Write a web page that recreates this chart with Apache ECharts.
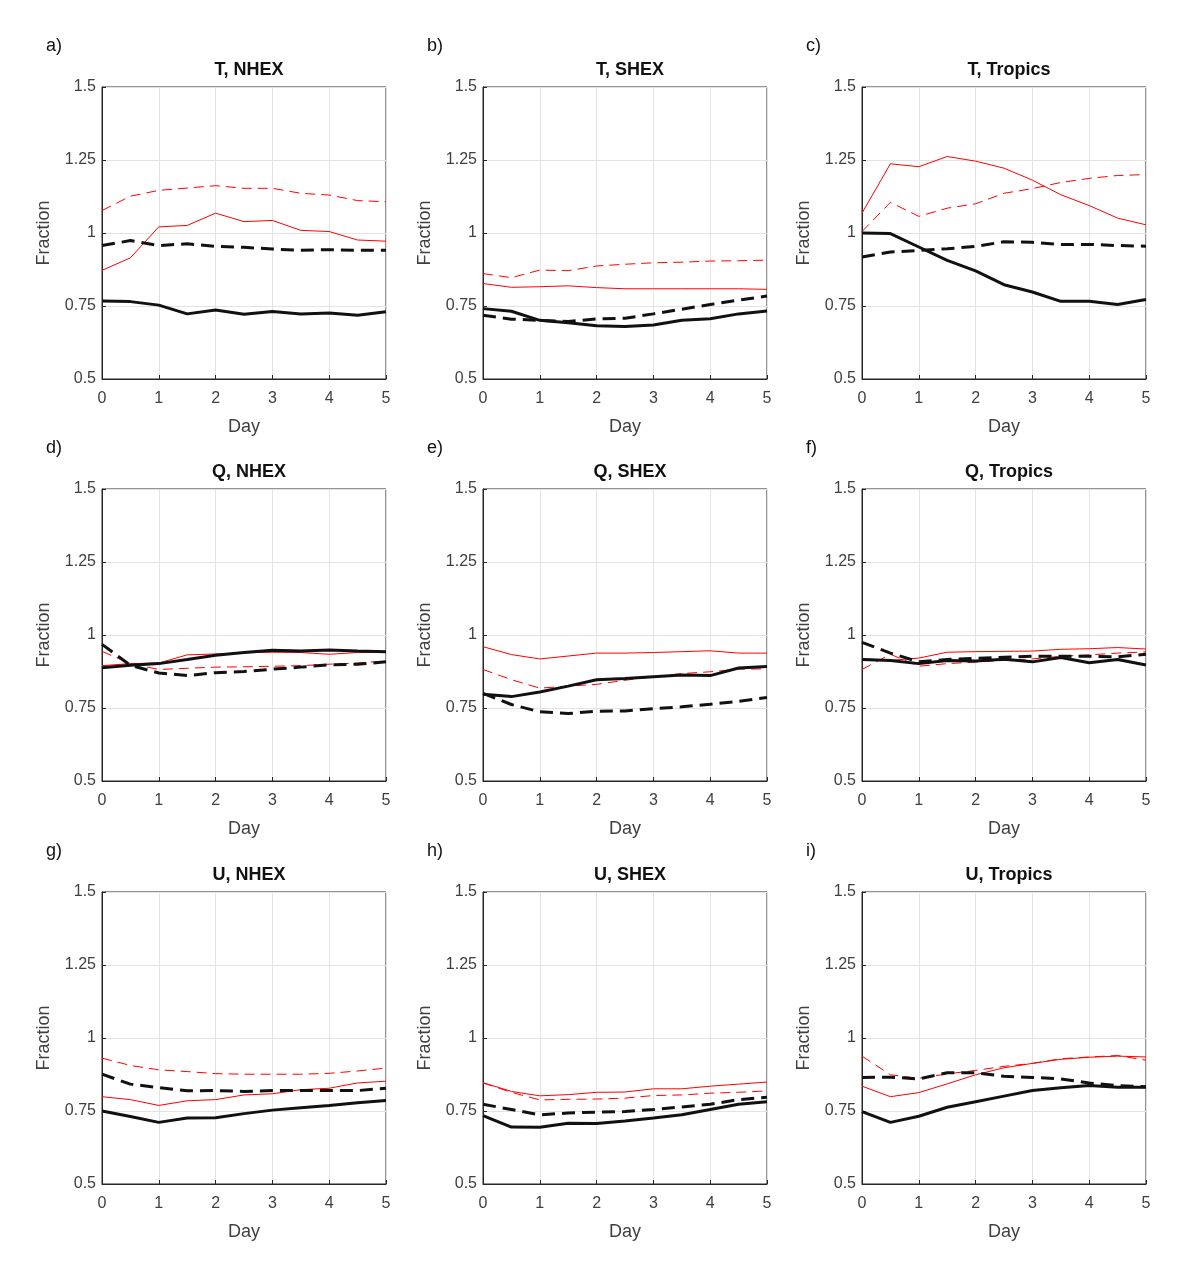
<!DOCTYPE html>
<html lang="en">
<head>
    <meta charset="UTF-8">
    <title>Fraction by day</title>
    <script src="https://cdn.jsdelivr.net/npm/echarts@6.0.0/dist/echarts.min.js"></script>
    <style>
        html, body { margin: 0; padding: 0; background: #fff; }
    </style>
</head>
<body>
    <div id="main" style="width: 1200px;height:1281px;"></div>
    <script type="text/javascript">
        // x values shared by every panel
        var days = [0, 0.5, 1, 1.5, 2, 2.5, 3, 3.5, 4, 4.5, 5];
        var yTicks = [0.5, 0.75, 1, 1.25, 1.5];
        var panelTitles = ['T, NHEX', 'T, SHEX', 'T, Tropics',
                           'Q, NHEX', 'Q, SHEX', 'Q, Tropics',
                           'U, NHEX', 'U, SHEX', 'U, Tropics'];
        var panelLetters = ['a)', 'b)', 'c)', 'd)', 'e)', 'f)', 'g)', 'h)', 'i)'];

        // T, NHEX
        var tNhexBlk     = [0.767, 0.765, 0.753, 0.723, 0.736, 0.722, 0.731, 0.723, 0.726, 0.718, 0.730];
        var tNhexBlkDash = [0.957, 0.974, 0.957, 0.963, 0.954, 0.951, 0.945, 0.941, 0.943, 0.941, 0.941];
        var tNhexRed     = [0.872, 0.915, 1.021, 1.026, 1.068, 1.039, 1.043, 1.009, 1.005, 0.976, 0.972];
        var tNhexRedDash = [1.077, 1.126, 1.146, 1.154, 1.162, 1.153, 1.153, 1.136, 1.130, 1.111, 1.107];
        // T, SHEX
        var tShexBlk     = [0.741, 0.732, 0.701, 0.693, 0.682, 0.680, 0.685, 0.701, 0.706, 0.723, 0.733];
        var tShexBlkDash = [0.718, 0.705, 0.701, 0.697, 0.706, 0.708, 0.723, 0.739, 0.755, 0.770, 0.784];
        var tShexRed     = [0.827, 0.814, 0.816, 0.819, 0.813, 0.809, 0.809, 0.809, 0.809, 0.809, 0.807];
        var tShexRedDash = [0.861, 0.847, 0.873, 0.871, 0.887, 0.893, 0.898, 0.900, 0.904, 0.905, 0.907];
        // T, Tropics
        var tTropBlk     = [1.000, 0.998, 0.952, 0.906, 0.870, 0.823, 0.798, 0.766, 0.766, 0.755, 0.772];
        var tTropBlkDash = [0.918, 0.935, 0.940, 0.946, 0.954, 0.970, 0.968, 0.961, 0.961, 0.957, 0.955];
        var tTropRed     = [1.068, 1.237, 1.227, 1.262, 1.246, 1.222, 1.181, 1.131, 1.094, 1.051, 1.028];
        var tTropRedDash = [1.005, 1.105, 1.057, 1.085, 1.100, 1.136, 1.152, 1.173, 1.187, 1.197, 1.200];
        // Q, NHEX
        var qNhexBlk     = [0.888, 0.896, 0.902, 0.916, 0.931, 0.940, 0.948, 0.945, 0.949, 0.945, 0.943];
        var qNhexBlkDash = [0.968, 0.896, 0.870, 0.861, 0.871, 0.875, 0.883, 0.890, 0.898, 0.900, 0.908];
        var qNhexRed     = [0.895, 0.902, 0.904, 0.932, 0.935, 0.939, 0.941, 0.940, 0.934, 0.940, 0.940];
        var qNhexRedDash = [0.944, 0.902, 0.882, 0.886, 0.890, 0.891, 0.893, 0.895, 0.900, 0.904, 0.911];
        // Q, SHEX
        var qShexBlk     = [0.797, 0.789, 0.805, 0.825, 0.847, 0.851, 0.857, 0.863, 0.861, 0.887, 0.892];
        var qShexBlkDash = [0.800, 0.762, 0.737, 0.731, 0.739, 0.740, 0.748, 0.754, 0.763, 0.773, 0.786];
        var qShexRed     = [0.960, 0.933, 0.918, 0.928, 0.938, 0.938, 0.940, 0.943, 0.946, 0.938, 0.938];
        var qShexRedDash = [0.882, 0.847, 0.818, 0.825, 0.831, 0.845, 0.857, 0.868, 0.874, 0.883, 0.884];
        // Q, Tropics
        var qTropBlk     = [0.916, 0.913, 0.902, 0.913, 0.911, 0.917, 0.908, 0.923, 0.905, 0.916, 0.897];
        var qTropBlkDash = [0.975, 0.938, 0.908, 0.916, 0.920, 0.924, 0.927, 0.927, 0.927, 0.925, 0.934];
        var qTropRed     = [0.919, 0.913, 0.921, 0.941, 0.943, 0.944, 0.945, 0.951, 0.953, 0.957, 0.952];
        var qTropRedDash = [0.882, 0.934, 0.893, 0.902, 0.907, 0.913, 0.918, 0.927, 0.932, 0.938, 0.942];
        // U, NHEX
        var uNhexBlk     = [0.750, 0.731, 0.711, 0.726, 0.727, 0.741, 0.753, 0.761, 0.769, 0.778, 0.786];
        var uNhexBlkDash = [0.876, 0.842, 0.830, 0.819, 0.820, 0.817, 0.820, 0.820, 0.820, 0.820, 0.828];
        var uNhexRed     = [0.799, 0.789, 0.769, 0.785, 0.789, 0.805, 0.809, 0.823, 0.828, 0.846, 0.852];
        var uNhexRedDash = [0.931, 0.906, 0.891, 0.885, 0.878, 0.876, 0.876, 0.876, 0.879, 0.887, 0.897];
        // U, SHEX
        var uShexBlk     = [0.734, 0.695, 0.694, 0.708, 0.707, 0.716, 0.726, 0.737, 0.755, 0.773, 0.782];
        var uShexBlkDash = [0.773, 0.755, 0.737, 0.743, 0.746, 0.748, 0.755, 0.764, 0.773, 0.789, 0.797];
        var uShexRed     = [0.847, 0.817, 0.802, 0.806, 0.814, 0.815, 0.826, 0.826, 0.835, 0.842, 0.849];
        var uShexRedDash = [0.846, 0.814, 0.788, 0.790, 0.791, 0.794, 0.803, 0.805, 0.811, 0.814, 0.819];
        // U, Tropics
        var uTropBlk     = [0.748, 0.711, 0.732, 0.763, 0.782, 0.801, 0.820, 0.830, 0.837, 0.831, 0.831];
        var uTropBlkDash = [0.865, 0.866, 0.860, 0.881, 0.881, 0.869, 0.865, 0.860, 0.846, 0.837, 0.833];
        var uTropRed     = [0.835, 0.799, 0.813, 0.843, 0.874, 0.898, 0.913, 0.927, 0.934, 0.938, 0.935];
        var uTropRedDash = [0.938, 0.874, 0.862, 0.877, 0.889, 0.903, 0.913, 0.929, 0.935, 0.940, 0.924];

        var panels = [
            [tNhexRed, tNhexRedDash, tNhexBlk, tNhexBlkDash],
            [tShexRed, tShexRedDash, tShexBlk, tShexBlkDash],
            [tTropRed, tTropRedDash, tTropBlk, tTropBlkDash],
            [qNhexRed, qNhexRedDash, qNhexBlk, qNhexBlkDash],
            [qShexRed, qShexRedDash, qShexBlk, qShexBlkDash],
            [qTropRed, qTropRedDash, qTropBlk, qTropBlkDash],
            [uNhexRed, uNhexRedDash, uNhexBlk, uNhexBlkDash],
            [uShexRed, uShexRedDash, uShexBlk, uShexBlkDash],
            [uTropRed, uTropRedDash, uTropBlk, uTropBlkDash]
        ];

        // line looks: red thin solid, red thin dashed, black thick solid, black thick dashed
        var lineLooks = [
            { name: 'red', color: '#ff0000', width: 1, type: 'solid' },
            { name: 'red dashed', color: '#ff0000', width: 1, type: [10, 6] },
            { name: 'black', color: '#111111', width: 3, type: 'solid' },
            { name: 'black dashed', color: '#111111', width: 3, type: [13, 7] }
        ];

        var colLeft = [102, 483, 862];
        var rowTop = [87, 489, 892];
        var plotW = 284, plotH = 292;
        var axisColor = '#262626';
        var font = 'Liberation Sans, Helvetica, Arial, sans-serif';

        var myChart = echarts.init(document.getElementById('main'));

        var grids = [], xAxes = [], yAxes = [], titles = [], series = [];

        for (var p = 0; p < 9; p++) {
            var col = p % 3, row = Math.floor(p / 3);
            var gx = colLeft[col], gy = rowTop[row];

            grids.push({
                left: gx, top: gy, width: plotW, height: plotH,
                show: true, borderColor: axisColor, borderWidth: 1, backgroundColor: '#fff'
            });

            xAxes.push({
                type: 'value', gridIndex: p, min: 0, max: 5, interval: 1,
                name: 'Day', nameLocation: 'middle', nameGap: 39,
                nameTextStyle: { fontSize: 18, color: '#404040', fontFamily: font },
                axisLine: { show: true, onZero: false, lineStyle: { color: axisColor } },
                axisTick: { show: true, inside: true, length: 4, lineStyle: { color: axisColor } },
                axisLabel: { fontSize: 16, color: '#404040', margin: 12, fontFamily: font },
                splitLine: { show: true, lineStyle: { color: '#e3e3e3', width: 1 } }
            });

            yAxes.push({
                type: 'value', gridIndex: p, min: 0.5, max: 1.5, interval: 0.25,
                name: 'Fraction', nameLocation: 'middle', nameGap: 49, nameRotate: 90,
                nameTextStyle: { fontSize: 18, color: '#404040', fontFamily: font },
                axisLine: { show: true, onZero: false, lineStyle: { color: axisColor } },
                axisTick: { show: true, inside: true, length: 4, lineStyle: { color: axisColor } },
                axisLabel: {
                    fontSize: 16, color: '#404040', margin: 6, fontFamily: font,
                    formatter: function (v) { return yTicks.indexOf(v) >= 0 ? String(v) : ''; }
                },
                splitLine: { show: true, lineStyle: { color: '#e3e3e3', width: 1 } }
            });

            titles.push({
                text: panelTitles[p], left: gx + plotW / 2, top: gy - 31, textAlign: 'center',
                textStyle: { fontSize: 18, fontWeight: 'bold', color: '#111', fontFamily: font }
            });
            titles.push({
                text: panelLetters[p], left: gx - 61, top: gy - 55,
                textStyle: { fontSize: 18, fontWeight: 'normal', color: '#111', fontFamily: font }
            });

            for (var s = 0; s < 4; s++) {
                var look = lineLooks[s];
                var vals = panels[p][s];
                series.push({
                    name: look.name, type: 'line', xAxisIndex: p, yAxisIndex: p,
                    data: days.map(function (d, i) { return [d, vals[i]]; }),
                    showSymbol: false, symbol: 'none', silent: true,
                    lineStyle: { color: look.color, width: look.width, type: look.type, cap: 'butt' },
                    z: look.width > 1 ? 3 : 2
                });
            }
        }

        var option = {
            backgroundColor: '#fff',
            animation: false,
            title: titles,
            grid: grids,
            xAxis: xAxes,
            yAxis: yAxes,
            series: series
        };

        myChart.setOption(option);
    </script>
</body>
</html>
